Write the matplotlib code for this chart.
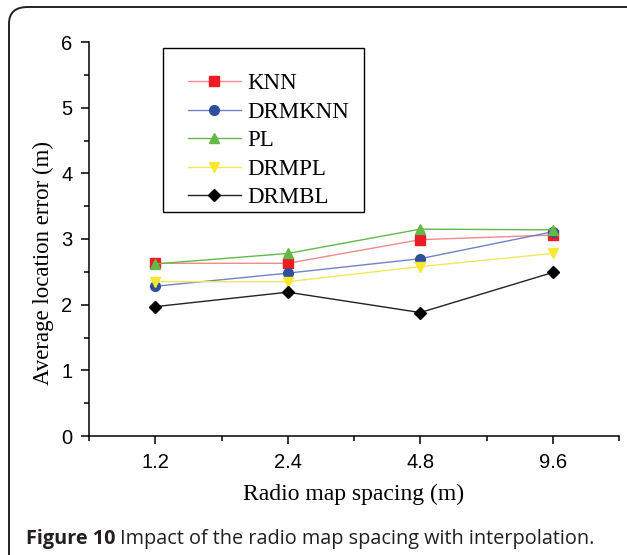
import matplotlib
matplotlib.use("Agg")
import matplotlib.pyplot as plt
from matplotlib.patches import FancyBboxPatch, Rectangle
from matplotlib.ticker import MultipleLocator, FixedLocator

# data
spacing = ["1.2", "2.4", "4.8", "9.6"]
knn = [2.63, 2.63, 2.99, 3.06]
drmknn = [2.28, 2.48, 2.70, 3.11]
pl = [2.62, 2.78, 3.15, 3.14]
drmpl = [2.35, 2.35, 2.58, 2.78]
drmbl = [1.97, 2.19, 1.88, 2.49]

series = [
    ("KNN", knn, "s", "#ed1c24", "#f28b8b"),
    ("DRMKNN", drmknn, "o", "#2e4f9e", "#6f84c4"),
    ("PL", pl, "^", "#63b947", "#63b947"),
    ("DRMPL", drmpl, "v", "#f5e92e", "#efe85a"),
    ("DRMBL", drmbl, "D", "#000000", "#222222"),
]

fig = plt.figure(figsize=(6.27, 5.55), dpi=100)
W, H = 627, 555

# rounded panel frame (runs off the right and bottom edges)
frame = FancyBboxPatch((9 / W, -0.05), 1.2, 1 - 7 / H + 0.05,
                       boxstyle="round,pad=0,rounding_size=0.03",
                       transform=fig.transFigure, fill=False,
                       edgecolor="#222222", linewidth=1.4, clip_on=False)
fig.patches.append(frame)

ax = fig.add_axes([89 / W, 1 - 436 / H, (619 - 89) / W, (436 - 42) / H])
x = list(range(len(spacing)))
for name, vals, mk, mc, lc in series:
    ms = 6 if mk == "D" else 7
    ax.plot(x, vals, color=lc, linewidth=1.0, marker=mk, markersize=ms,
            markerfacecolor=mc, markeredgecolor=mc, label=name)

ax.set_xlim(-0.5, 3.5)
ax.set_ylim(0, 6)
ax.set_xticks(x)
ax.set_xticklabels(spacing)
ax.xaxis.set_minor_locator(FixedLocator([-0.5, 0.5, 1.5, 2.5, 3.5]))
ax.yaxis.set_major_locator(MultipleLocator(1))
ax.yaxis.set_minor_locator(MultipleLocator(0.5))
ax.spines["top"].set_visible(False)
ax.spines["right"].set_visible(False)
for s in ["left", "bottom"]:
    ax.spines[s].set_linewidth(1.1)
ax.tick_params(which="major", direction="out", length=6, width=1.1,
               labelsize=14.5, pad=6)
ax.tick_params(which="minor", direction="out", length=3.5, width=1.1)
for lab in ax.get_xticklabels() + ax.get_yticklabels():
    lab.set_family("Liberation Sans")

ax.set_xlabel("Radio map spacing (m)", family="Liberation Serif", fontsize=17)
ax.xaxis.set_label_coords(0.5, -0.122)
ax.set_ylabel("Average location error (m)", family="Liberation Serif", fontsize=16.5)
ax.yaxis.set_label_coords(-0.066, 0.44)

# legend without its own frame, box drawn separately
leg = ax.legend(loc="upper left", bbox_to_anchor=(188 / W, 1 - 73 / H),
                bbox_transform=fig.transFigure, borderaxespad=0, borderpad=0,
                frameon=False, prop={"family": "Liberation Serif", "size": 16.5},
                handlelength=2.3, labelspacing=0.33, handletextpad=0.3)
box = Rectangle((163 / W, 1 - 212 / H), (364 - 163) / W, (212 - 48) / H,
                transform=fig.transFigure, fill=False, edgecolor="black",
                linewidth=1.0)
fig.patches.append(box)

# caption: bold prefix followed by regular text
fig.canvas.draw()
r = fig.canvas.get_renderer()
t1 = fig.text(26 / W, 1 - 544 / H, "Figure 10", fontsize=14.3, fontweight="bold",
              va="baseline", family="Open Sans", color="#231f20")
bb = t1.get_window_extent(renderer=r)
fig.text(bb.x1 / W + 5 / W, 1 - 544 / H, "Impact of the radio map spacing with interpolation.",
         fontsize=14.3, va="baseline", family="Open Sans", color="#231f20")

fig.savefig("out.png", dpi=100)
